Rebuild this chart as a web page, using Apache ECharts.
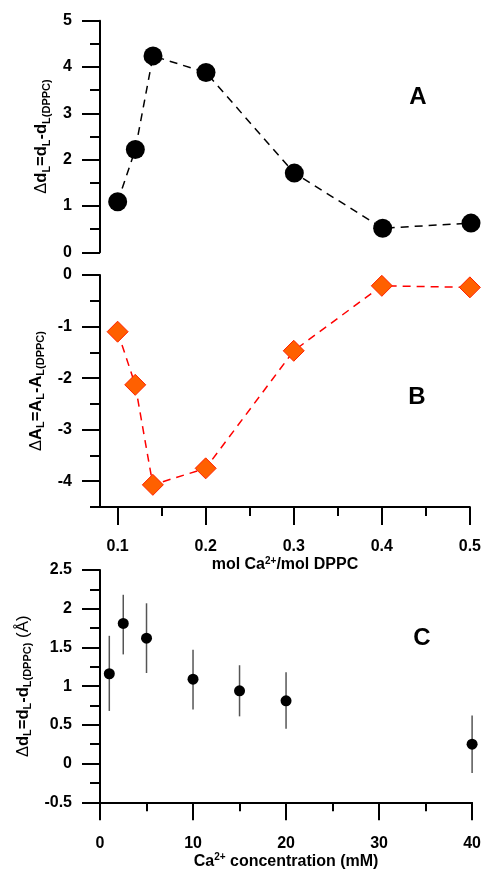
<!DOCTYPE html>
<html>
<head>
<meta charset="utf-8">
<script src="https://cdn.jsdelivr.net/npm/echarts@6/dist/echarts.min.js"></script>
<style>
html,body{margin:0;padding:0;background:#fff;}
#main{width:484px;height:871px;}
</style>
</head>
<body>
<div id="main"></div>
<script>
// ---- data ----
var ratioX = [0.1, 0.12, 0.14, 0.2, 0.3, 0.4, 0.5];
var deltaD = [1.09, 2.22, 4.24, 3.88, 1.71, 0.52, 0.63];
var deltaA = [-1.10, -2.13, -4.07, -3.75, -1.47, -0.21, -0.24];

var concX = [1, 2.5, 5, 10, 15, 20, 40];
var deltaDc = [1.16, 1.81, 1.62, 1.09, 0.94, 0.81, 0.25];
var errLow = [0.68, 1.41, 1.17, 0.70, 0.61, 0.45, -0.12];
var errHigh = [1.65, 2.18, 2.07, 1.47, 1.27, 1.18, 0.62];

var ratioTicks = [0.1, 0.2, 0.3, 0.4, 0.5];
var ratioMinorTicks = [0.15, 0.25, 0.35, 0.45];
var areaTicks = [-4, -3, -2, -1, 0];
var areaMinorTicks = [-4.5, -3.5, -2.5, -1.5, -0.5];

// ---- styling ----
var FONT = 'Liberation Sans, Arial, Helvetica, sans-serif';
var lineSt = {color: '#000', width: 2};
var labelSt = {color: '#000', fontFamily: FONT, fontWeight: 'bold', fontSize: 16};
var rich = {
  b: {fontFamily: FONT, fontWeight: 'bold', fontSize: 16.5, color: '#000'},
  g: {fontFamily: FONT, fontWeight: 'normal', fontSize: 16.5, color: '#000'},
  s: {fontFamily: FONT, fontWeight: 'bold', fontSize: 11, color: '#000', padding: [10, 0, 0, 0]},
  n: {fontFamily: FONT, fontWeight: 'normal', fontSize: 17, color: '#000'},
  x: {fontFamily: FONT, fontWeight: 'bold', fontSize: 16, color: '#000'},
  p: {fontFamily: FONT, fontWeight: 'bold', fontSize: 10, color: '#000', padding: [0, 0, 8, 0]}
};

function pairs(xs, ys) { return xs.map(function (x, i) { return [x, ys[i]]; }); }

var chart = echarts.init(document.getElementById('main'), null, {renderer: 'canvas'});

var option = {
  backgroundColor: '#fff',
  animation: false,
  grid: [
    {left: 100, top: 20.7, width: 371, height: 231.6},
    {left: 100, top: 275, width: 371, height: 232},
    {left: 100, top: 570, width: 372.7, height: 232.3}
  ],
  xAxis: [
    {gridIndex: 0, type: 'value', min: 0.08, max: 0.5, show: false},
    {gridIndex: 1, type: 'value', min: 0.08, max: 0.5, position: 'bottom',
      axisLine: {show: true, onZero: false, lineStyle: lineSt},
      axisTick: {show: true, length: 18, lineStyle: lineSt, customValues: ratioTicks},
      axisLabel: {show: true, customValues: ratioTicks, margin: 32, formatter: function (v) { return v.toFixed(1); }, ...labelSt},
      splitLine: {show: false},
      name: '{x|mol Ca}{p|2+}{x|/mol DPPC}', nameLocation: 'middle', nameGap: 49,
      nameTextStyle: {rich: rich}
    },
    {gridIndex: 1, type: 'value', min: 0.08, max: 0.5, position: 'bottom',
      axisLine: {show: false, onZero: false},
      axisTick: {show: true, length: 9, lineStyle: lineSt, customValues: ratioMinorTicks},
      axisLabel: {show: false}, splitLine: {show: false}
    },
    {gridIndex: 2, type: 'value', min: 0, max: 40, interval: 10, position: 'bottom',
      axisLine: {show: true, onZero: false, lineStyle: lineSt},
      axisTick: {show: true, length: 18, lineStyle: lineSt},
      minorTick: {show: true, splitNumber: 2, length: 9, lineStyle: lineSt},
      axisLabel: {show: true, margin: 33, ...labelSt},
      splitLine: {show: false}, minorSplitLine: {show: false},
      name: '{x|Ca}{p|2+}{x| concentration (mM)}', nameLocation: 'middle', nameGap: 47,
      nameTextStyle: {rich: rich}
    }
  ],
  yAxis: [
    {gridIndex: 0, type: 'value', min: 0, max: 5, interval: 1, position: 'left',
      axisLine: {show: true, onZero: false, lineStyle: lineSt},
      axisTick: {show: true, length: 18, lineStyle: lineSt},
      minorTick: {show: true, splitNumber: 2, length: 10, lineStyle: lineSt},
      axisLabel: {show: true, margin: 28, ...labelSt},
      splitLine: {show: false}, minorSplitLine: {show: false},
      name: '{g|Δ}{b|d}{s|L}{b|=d}{s|L}{b|-d}{s|L(DPPC)}', nameLocation: 'middle', nameGap: 48, nameRotate: 90,
      nameTextStyle: {rich: rich}
    },
    {gridIndex: 1, type: 'value', min: -4.5, max: 0, position: 'left',
      axisLine: {show: true, onZero: false, lineStyle: lineSt},
      axisTick: {show: true, length: 18, lineStyle: lineSt, customValues: areaTicks},
      axisLabel: {show: true, margin: 28, customValues: areaTicks, ...labelSt},
      splitLine: {show: false},
      name: '{g|Δ}{b|A}{s|L}{b|=A}{s|L}{b|-A}{s|L(DPPC)}', nameLocation: 'middle', nameGap: 53, nameRotate: 90,
      nameTextStyle: {rich: rich}
    },
    {gridIndex: 1, type: 'value', min: -4.5, max: 0, position: 'left',
      axisLine: {show: false, onZero: false},
      axisTick: {show: true, length: 10, lineStyle: lineSt, customValues: areaMinorTicks},
      axisLabel: {show: false}, splitLine: {show: false}
    },
    {gridIndex: 2, type: 'value', min: -0.5, max: 2.5, interval: 0.5, position: 'left',
      axisLine: {show: true, onZero: false, lineStyle: lineSt},
      axisTick: {show: true, length: 18, lineStyle: lineSt},
      minorTick: {show: true, splitNumber: 2, length: 10, lineStyle: lineSt},
      axisLabel: {show: true, margin: 28, ...labelSt},
      splitLine: {show: false}, minorSplitLine: {show: false},
      name: '{g|Δ}{b|d}{s|L}{b|=d}{s|L}{b|-d}{s|L(DPPC)}{n| (Å)}', nameLocation: 'middle', nameGap: 55, nameRotate: 90,
      nameTextStyle: {rich: rich}
    }
  ],
  series: [
    {type: 'line', xAxisIndex: 0, yAxisIndex: 0, data: pairs(ratioX, deltaD),
      symbol: 'circle', symbolSize: 19, itemStyle: {color: '#000', opacity: 1},
      lineStyle: {color: '#000', width: 1.5, type: [8, 6]}, clip: false},
    {type: 'line', xAxisIndex: 1, yAxisIndex: 1, data: pairs(ratioX, deltaA),
      symbol: 'diamond', symbolSize: 21, itemStyle: {color: '#ff6000', borderColor: '#ff2000', borderWidth: 1, opacity: 1},
      lineStyle: {color: '#ff0000', width: 1.5, type: [8, 6]}, clip: false},
    {type: 'custom', xAxisIndex: 3, yAxisIndex: 3, data: concX.map(function (x, i) { return [x, errLow[i], errHigh[i]]; }),
      renderItem: function (params, api) {
        var p1 = api.coord([api.value(0), api.value(1)]);
        var p2 = api.coord([api.value(0), api.value(2)]);
        return {type: 'line', shape: {x1: p1[0], y1: p1[1], x2: p2[0], y2: p2[1]},
          style: {stroke: '#555', lineWidth: 1.5}};
      }, clip: false, z: 1},
    {type: 'scatter', xAxisIndex: 3, yAxisIndex: 3, data: pairs(concX, deltaDc),
      symbol: 'circle', symbolSize: 11, itemStyle: {color: '#000', opacity: 1}, z: 3}
  ],
  graphic: [
    {type: 'text', x: 418, y: 97, style: {text: 'A', font: 'bold 24px ' + FONT, fill: '#000', align: 'center', verticalAlign: 'middle'}},
    {type: 'text', x: 417, y: 397, style: {text: 'B', font: 'bold 24px ' + FONT, fill: '#000', align: 'center', verticalAlign: 'middle'}},
    {type: 'text', x: 422, y: 638, style: {text: 'C', font: 'bold 24px ' + FONT, fill: '#000', align: 'center', verticalAlign: 'middle'}}
  ]
};
chart.setOption(option);
</script>
</body>
</html>
